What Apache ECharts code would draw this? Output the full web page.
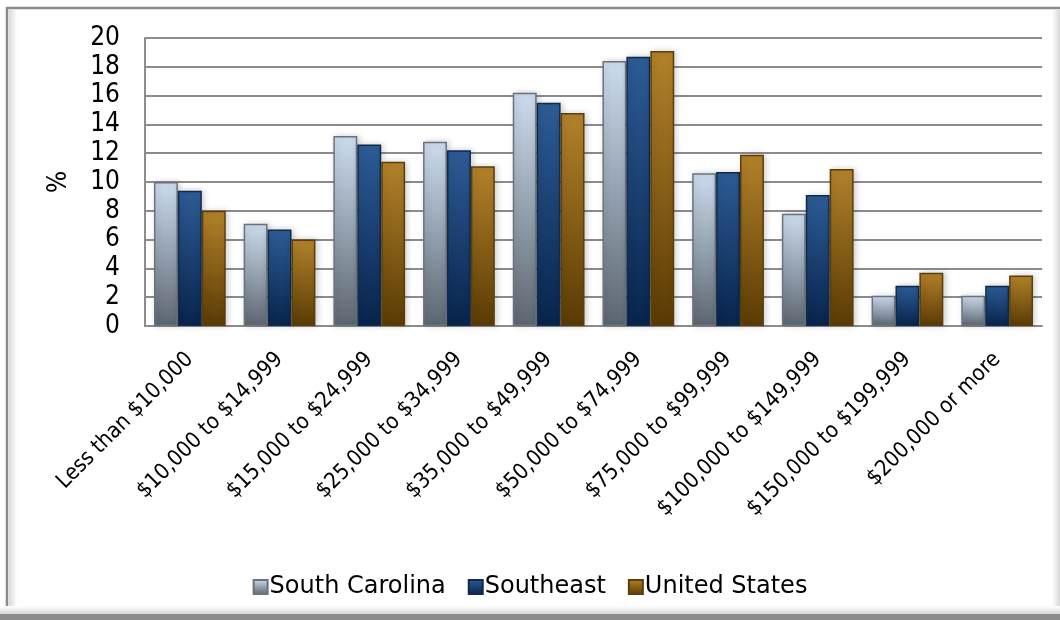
<!DOCTYPE html>
<html>
<head>
<meta charset="utf-8">
<script src="https://cdn.jsdelivr.net/npm/echarts@6/dist/echarts.min.js"></script>
<style>
html,body{margin:0;padding:0;background:#fff;}
#c{width:1060px;height:620px;}
</style>
</head>
<body>
<div id="c"></div>
<script>
const categories = ["Less than $10,000","$10,000 to $14,999","$15,000 to $24,999","$25,000 to $34,999","$35,000 to $49,999","$50,000 to $74,999","$75,000 to $99,999","$100,000 to $149,999","$150,000 to $199,999","$200,000 or more"];
const southCarolina = [10.0, 7.1, 13.2, 12.8, 16.2, 18.4, 10.6, 7.8, 2.1, 2.1];
const southeast = [9.4, 6.7, 12.6, 12.2, 15.5, 18.7, 10.7, 9.1, 2.8, 2.8];
const unitedStates = [8.0, 6.0, 11.4, 11.1, 14.8, 19.1, 11.9, 10.9, 3.7, 3.5];
const yTicks = {min: 0, max: 20, interval: 2};

const FONT = '"DejaVu Sans Condensed", "Liberation Sans Narrow", "Liberation Sans", sans-serif';
const FONT_WIDE = '"DejaVu Sans", "Liberation Sans", sans-serif';
function grad(top, bottom){
  return new echarts.graphic.LinearGradient(0,0,0,1,[{offset:0,color:top},{offset:1,color:bottom}]);
}
const styles = [
  {name:'South Carolina', data:southCarolina, top:'#ccdcee', bottom:'#5c6670', border:'#6a737c'},
  {name:'Southeast', data:southeast, top:'#2d5c96', bottom:'#08244c', border:'#102a4c'},
  {name:'United States', data:unitedStates, top:'#b3822a', bottom:'#5a3b04', border:'#5a3f0c'}
];

const chart = echarts.init(document.getElementById('c'), null, {renderer:'canvas'});
chart.setOption({
  animation:false,
  backgroundColor:'#fff',
  textStyle:{fontFamily:FONT},
  graphic:[
    {type:'rect', z:-10, shape:{x:7,y:8,width:1070,height:606},
     style:{fill:'#fff', stroke:'#8a8a8a', lineWidth:2.5}},
    {type:'rect', z:-9, shape:{x:9,y:10,width:8,height:602},
     style:{fill:new echarts.graphic.LinearGradient(0,0,1,0,[{offset:0,color:'#d8d8d8'},{offset:1,color:'#ffffff'}])}},
    {type:'rect', z:-9, shape:{x:1052,y:10,width:8,height:602},
     style:{fill:new echarts.graphic.LinearGradient(0,0,1,0,[{offset:0,color:'#ffffff'},{offset:1,color:'#d8d8d8'}])}},
    {type:'rect', z:-9, shape:{x:0,y:606,width:1060,height:8},
     style:{fill:new echarts.graphic.LinearGradient(0,0,0,1,[{offset:0,color:'#ffffff'},{offset:1,color:'#d8d8d8'}])}},
    {type:'rect', z:-8, shape:{x:0,y:614,width:1060,height:6},
     style:{fill:'#8c8c8c'}}
  ],
  grid:{left:145, right:18, top:38, bottom:294, show:false},
  legend:{
    bottom:16, left:'center',
    itemWidth:14, itemHeight:14, itemGap:22,
    icon:'rect',
    textStyle:{fontSize:24, color:'#000', fontFamily:FONT_WIDE, padding:[0,0,0,-3]},
    data:styles.map(s=>s.name)
  },
  xAxis:{
    type:'category',
    data:categories,
    axisLine:{show:true, lineStyle:{color:'#8c8c8c', width:2}},
    axisTick:{show:false},
    axisLabel:{rotate:45, fontSize:22, color:'#000', margin:30, interval:0, fontFamily:FONT},
    splitLine:{show:false}
  },
  yAxis:{
    type:'value',
    min:yTicks.min, max:yTicks.max, interval:yTicks.interval,
    name:'%', nameLocation:'middle', nameRotate:90, nameGap:73,
    nameTextStyle:{fontSize:26, color:'#000', fontFamily:FONT},
    axisLine:{show:true, lineStyle:{color:'#8c8c8c', width:2}},
    axisTick:{show:false},
    axisLabel:{fontSize:26, color:'#000', margin:25, fontFamily:FONT},
    splitLine:{show:true, lineStyle:{color:'#8c8c8c', width:2}}
  },
  series:styles.map(s=>({
    type:'bar', name:s.name, data:s.data,
    barGap:'0%', barCategoryGap:'20%',
    itemStyle:{color:grad(s.top,s.bottom), borderColor:s.border, borderWidth:1.5,
      shadowColor:'rgba(0,0,0,0.18)', shadowBlur:6, shadowOffsetX:2}
  }))
});
</script>
</body>
</html>
